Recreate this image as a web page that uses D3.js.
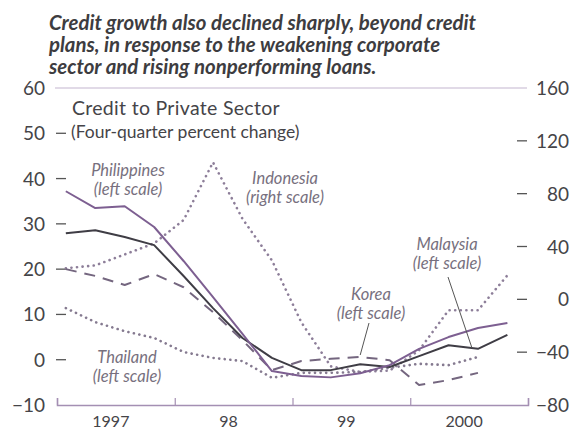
<!DOCTYPE html>
<html>
<head>
<meta charset="utf-8">
<script src="https://cdn.jsdelivr.net/npm/d3@7/dist/d3.min.js"></script>
<style>
	body { margin: 0; background: #fff; }
	svg { display: block; font-family: Lato, "Noto Sans", sans-serif; }
</style>
</head>
<body>
<div id="chart"></div>
<script>
// quarterly observations, 1997Q1 - 2000Q4
var quarters = ["1997Q1", "1997Q2", "1997Q3", "1997Q4", "1998Q1", "1998Q2", "1998Q3", "1998Q4",
	"1999Q1", "1999Q2", "1999Q3", "1999Q4", "2000Q1", "2000Q2", "2000Q3", "2000Q4"];
var years = [1997, 1998, 1999, 2000];
var yearLabels = ["1997", "98", "99", "2000"];

var leftTicks = [60, 50, 40, 30, 20, 10, 0, -10];
var rightTicks = [160, 120, 80, 40, 0, -40, -80];

// left scale, percent
var philippines = [37.2, 33.5, 33.9, 29.3, 21.8, 13.8, 5.7, -2.5, -3.6, -3.9, -3.0, -1.2, 2.4, 5.0, 7.0, 8.1];
var malaysia = [27.9, 28.6, 27.1, 25.3, 18.5, 11.4, 4.8, 0.4, -2.3, -2.3, -1.0, -1.6, 0.8, 3.2, 2.4, 5.5];
var korea = [20.0, 18.5, 16.5, 18.9, 16.0, 10.5, 4.3, -2.3, -0.3, 0.2, 0.6, -0.1, -5.6, -4.5, -2.9];
var thailand = [11.4, 8.3, 6.3, 4.8, 1.7, 0.4, -0.3, -4.0, -2.9, -2.9, -2.7, -1.8, -0.9, -1.2, 0.6];
// right scale, percent
var indonesia = [23.5, 25.7, 34, 42.4, 60, 103.7, 61, 29.5, -17.4, -50.7, -55, -54, -38.6, -8.3, -8.3, 18.2];

var titleLines = ["Credit growth also declined sharply, beyond credit",
	"plans, in response to the weakening corporate",
	"sector and rising nonperforming loans."];

var width = 580,
	height = 432,
	margin = { left: 57, right: 52, top: 88, bottom: 27 };

var svg = d3.select('#chart').append('svg')
	.attr('width', width)
	.attr('height', height);

var x = d3.scaleLinear()
	.domain([1997, 2001])
	.range([margin.left, width - margin.right]);

var yLeft = d3.scaleLinear()
	.domain([-10, 60])
	.range([height - margin.bottom, margin.top]);

var yRight = d3.scaleLinear()
	.domain([-80, 160])
	.range([height - margin.bottom, margin.top]);

function qx(i) {
	return x(1997 + (i + 0.3) / 4);
}

var textColor = '#454448',
	labelColor = '#77707e',
	axisColor = '#a48fb3';

// title
svg.append('g').selectAll('text').data(titleLines)
	.enter().append('text')
	.attr('x', 49)
	.attr('y', function(d, i) { return 30 + i * 22; })
	.style('font-size', '20.4px')
	.style('font-weight', 'bold')
	.style('font-style', 'italic')
	.style('fill', '#3d3c40')
	.text(function(d) { return d; });

// top frame line
svg.append('line')
	.attr('x1', 55).attr('x2', 527)
	.attr('y1', yLeft(60)).attr('y2', yLeft(60))
	.style('stroke', '#c3b6cf')
	.style('stroke-width', 1.2);

// bottom axis
var xAxis = d3.axisBottom(x)
	.tickValues([1997, 1998, 1999, 2000, 2001])
	.tickSize(-7)
	.tickFormat('');

var gx = svg.append('g')
	.attr('transform', 'translate(0,' + yLeft(-10) + ')')
	.call(xAxis);
gx.select('.domain').style('stroke', axisColor).style('stroke-width', 1.5);
gx.selectAll('.tick line').style('stroke', axisColor).style('stroke-width', 1.2);

svg.append('g').selectAll('text').data(years)
	.enter().append('text')
	.attr('x', function(d) { return x(d + 0.5) - 5; })
	.attr('y', 427)
	.attr('text-anchor', 'middle')
	.style('font-size', '16px')
	.style('fill', textColor)
	.text(function(d, i) { return yearLabels[i]; });

// left axis
var gl = svg.append('g');
gl.selectAll('text').data(leftTicks)
	.enter().append('text')
	.attr('x', 45)
	.attr('y', function(d) { return yLeft(d) + 7; })
	.attr('text-anchor', 'end')
	.style('font-size', '19px')
	.style('fill', textColor)
	.text(function(d) { return d < 0 ? '\u2212' + Math.abs(d) : d; });
gl.selectAll('line').data(leftTicks.filter(function(d) { return d > -10 && d < 60; }))
	.enter().append('line')
	.attr('x1', 56).attr('x2', 66)
	.attr('y1', function(d) { return yLeft(d); })
	.attr('y2', function(d) { return yLeft(d); })
	.style('stroke', '#555')
	.style('stroke-width', 1.3);

// right axis
var gr = svg.append('g');
gr.selectAll('text').data(rightTicks)
	.enter().append('text')
	.attr('x', 569)
	.attr('y', function(d) { return yRight(d) + 7; })
	.attr('text-anchor', 'end')
	.style('font-size', '19px')
	.style('fill', textColor)
	.text(function(d) { return d < 0 ? '\u2212' + Math.abs(d) : d; });
gr.selectAll('line').data(rightTicks.filter(function(d) { return d > -80 && d < 160; }))
	.enter().append('line')
	.attr('x1', 517).attr('x2', 527)
	.attr('y1', function(d) { return yRight(d); })
	.attr('y2', function(d) { return yRight(d); })
	.style('stroke', '#555')
	.style('stroke-width', 1.3);

// chart heading
svg.append('text')
	.attr('x', 72).attr('y', 115)
	.style('font-size', '19.5px')
	.style('letter-spacing', '0.3px')
	.style('fill', textColor)
	.text('Credit to Private Sector');
svg.append('text')
	.attr('x', 71).attr('y', yLeft(50) + 5)
	.style('font-size', '17.5px')
	.style('fill', textColor)
	.text('(Four-quarter percent change)');

// series
var series = [
	{ name: 'Indonesia', values: indonesia, y: yRight, color: '#8d7e99', dash: '0.1,5.5', width: 2.6, cap: 'round' },
	{ name: 'Thailand', values: thailand, y: yLeft, color: '#857a90', dash: '0.1,5.5', width: 2.6, cap: 'round' },
	{ name: 'Korea', values: korea, y: yLeft, color: '#74667f', dash: '11,8', width: 2, cap: 'butt' },
	{ name: 'Malaysia', values: malaysia, y: yLeft, color: '#3f3d45', dash: null, width: 2, cap: 'butt' },
	{ name: 'Philippines', values: philippines, y: yLeft, color: '#7d5f91', dash: null, width: 2, cap: 'butt' }
];

svg.append('g').selectAll('path').data(series)
	.enter().append('path')
	.attr('d', function(s) {
		return d3.line()
			.x(function(d, i) { return qx(i); })
			.y(function(d) { return s.y(d); })(s.values);
	})
	.style('fill', 'none')
	.style('stroke', function(s) { return s.color; })
	.style('stroke-width', function(s) { return s.width; })
	.style('stroke-dasharray', function(s) { return s.dash; })
	.style('stroke-linecap', function(s) { return s.cap; })
	.style('stroke-linejoin', 'round');

// series labels
var labels = [
	{ lines: ['Philippines', '(left scale)'], x: 128, y: 176 },
	{ lines: ['Indonesia', '(right scale)'], x: 285, y: 184 },
	{ lines: ['Malaysia', '(left scale)'], x: 447, y: 250 },
	{ lines: ['Korea', '(left scale)'], x: 371, y: 300 },
	{ lines: ['Thailand', '(left scale)'], x: 127, y: 363 }
];

var gLab = svg.append('g').selectAll('g').data(labels)
	.enter().append('g');
gLab.selectAll('text').data(function(d) {
		return d.lines.map(function(t, i) { return { t: t, x: d.x, y: d.y + i * 18.5 }; });
	})
	.enter().append('text')
	.attr('x', function(d) { return d.x; })
	.attr('y', function(d) { return d.y; })
	.attr('text-anchor', 'middle')
	.style('font-size', '16.5px')
	.style('font-style', 'italic')
	.style('fill', labelColor)
	.text(function(d) { return d.t; });

// leader lines
svg.append('line')
	.attr('x1', 448).attr('y1', 277)
	.attr('x2', qx(14) - 6).attr('y2', yLeft(2.6))
	.style('stroke', '#555').style('stroke-width', 1);
svg.append('line')
	.attr('x1', 369).attr('y1', 323)
	.attr('x2', qx(10)).attr('y2', yLeft(0.6) - 2)
	.style('stroke', '#555').style('stroke-width', 1);
</script>
</body>
</html>
